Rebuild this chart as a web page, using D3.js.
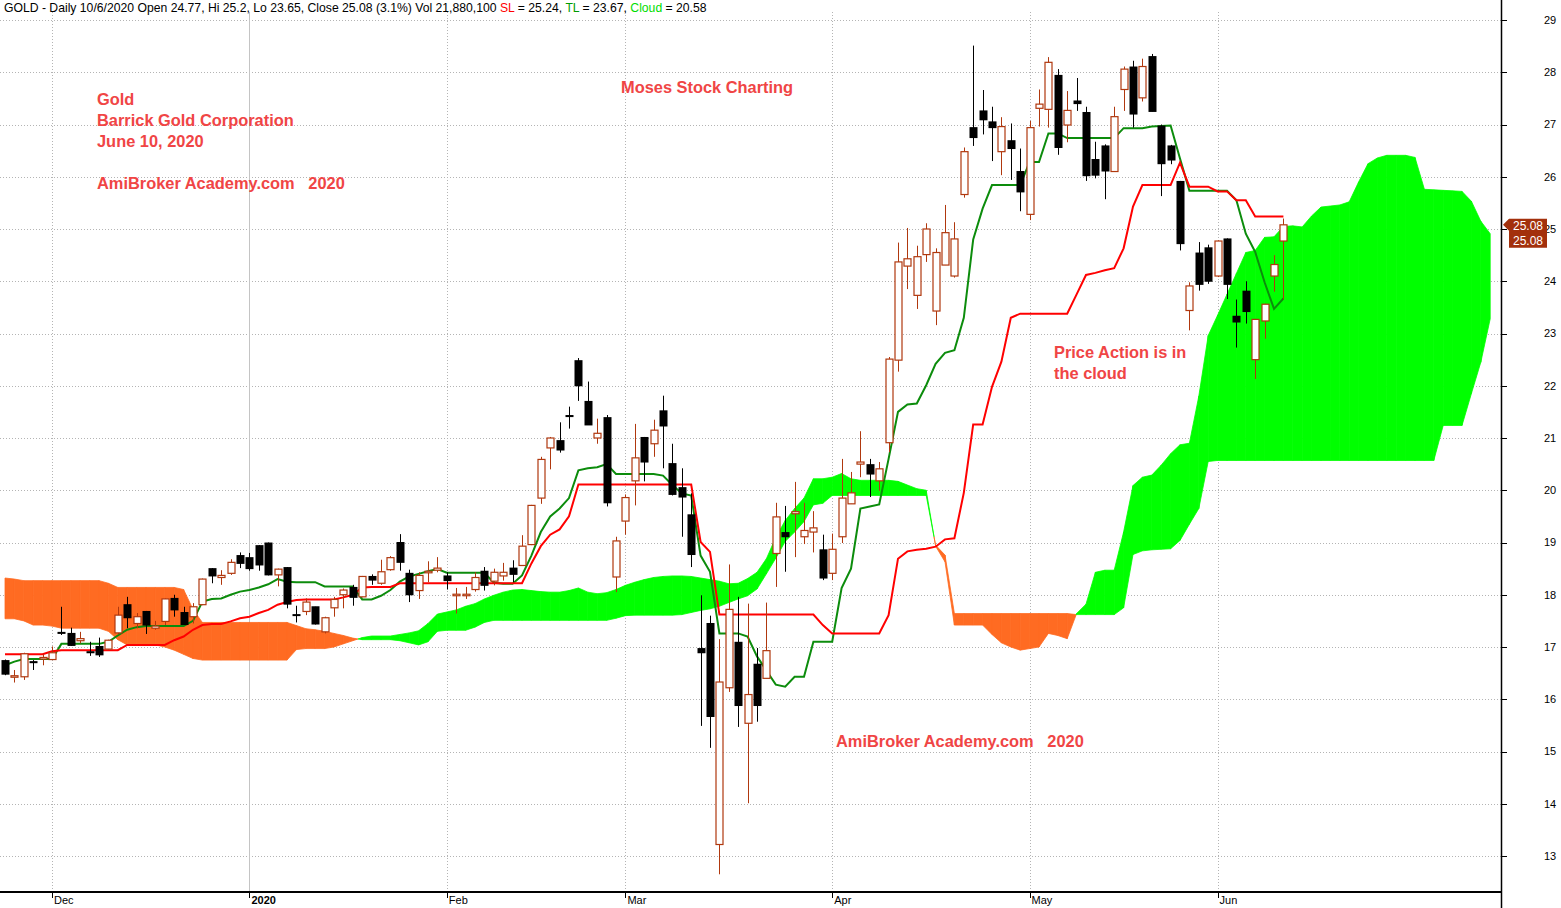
<!DOCTYPE html>
<html><head><meta charset="utf-8">
<script src="https://cdn.jsdelivr.net/npm/d3@7"></script>
<style>body{margin:0;background:#fff;} svg{display:block;font-family:"Liberation Sans",Arial,sans-serif;}</style>
</head><body><svg id="chart" width="1561" height="908"></svg>
<script>
// ---- data (index = trading day, 0 = 22 Nov 2019) ----
const openP = [
16.74,16.43,16.43,16.72,16.77,16.76,17.28,17.26,17.12,16.91,
17.01,16.96,17.27,17.81,17.45,17.68,17.36,17.49,17.93,17.66,
17.58,17.81,18.50,18.33,18.41,18.75,18.71,18.94,18.99,18.38,
18.52,17.62,17.68,17.77,17.29,17.75,18.00,18.14,17.96,18.35,
18.22,18.48,19.00,18.41,18.08,18.42,18.47,18.36,17.99,17.99,
18.10,18.45,18.26,18.36,18.51,18.56,18.96,19.85,20.81,20.95,
21.43,22.48,21.70,21.00,21.39,18.34,19.41,20.18,21.01,20.89,
21.52,20.51,20.05,19.53,16.97,17.45,13.22,16.22,17.09,15.54,
16.67,16.40,18.79,19.19,19.55,19.11,19.20,18.86,18.41,19.11,
19.74,20.50,20.49,20.18,20.91,22.49,24.29,23.73,24.51,23.43,
24.31,24.10,25.66,26.94,27.26,27.05,26.48,26.69,26.10,25.28,
27.31,27.29,27.94,26.99,27.45,27.23,26.33,26.59,26.10,27.67,
28.10,27.51,28.30,26.97,26.59,25.91,23.44,24.54,24.64,24.10,
24.81,23.33,23.81,22.50,23.24,24.10,24.77];
const highP = [
16.76,16.56,16.89,16.75,16.86,17.01,17.77,17.37,17.29,17.10,
17.18,17.14,17.77,17.96,17.65,17.69,17.50,17.93,18.00,17.77,
17.84,18.31,18.51,18.47,18.68,18.81,18.80,18.95,19.00,18.50,
18.53,17.79,17.93,17.77,17.58,17.96,18.12,18.19,18.36,18.39,
18.67,18.74,19.16,18.48,18.43,18.64,18.72,18.43,18.13,18.15,
18.43,18.53,18.50,18.61,18.66,19.14,19.72,20.64,21.02,21.30,
21.60,22.53,22.08,21.37,21.44,19.11,19.92,21.27,21.02,21.35,
21.81,20.89,20.42,19.94,17.99,17.60,17.15,18.58,17.96,17.83,
16.98,17.85,19.76,19.70,20.16,19.76,19.60,19.15,19.17,20.60,
20.35,21.13,20.60,20.54,22.55,24.74,25.02,24.68,25.11,24.63,
25.46,25.13,26.56,28.51,27.66,27.34,27.14,27.02,26.54,27.07,
27.67,28.29,28.06,27.64,27.89,27.34,26.67,26.62,27.34,28.11,
28.22,28.26,28.35,27.00,26.61,25.92,23.98,24.75,24.70,24.78,
24.82,23.65,24.00,23.28,23.57,24.50,25.20];
const lowP = [
16.46,16.32,16.37,16.56,16.65,16.75,17.23,17.02,17.07,16.83,
16.81,16.95,17.24,17.36,17.36,17.25,17.33,17.42,17.58,17.42,
17.45,17.80,18.22,18.19,18.38,18.51,18.46,18.46,18.37,18.16,
17.74,17.47,17.61,17.43,17.26,17.58,17.74,17.79,17.95,18.19,
18.19,18.46,18.46,17.86,17.92,18.24,18.43,18.10,17.64,17.92,
18.06,18.08,18.18,18.27,18.24,18.56,18.95,19.74,20.40,20.72,
21.18,21.71,21.25,20.89,19.69,18.05,19.15,19.71,20.17,20.64,
20.42,19.90,19.11,18.53,15.49,15.07,12.65,16.14,15.47,14.01,
15.57,16.40,18.15,18.44,18.72,18.97,18.81,18.28,18.28,18.99,
19.74,20.25,19.87,19.99,20.73,22.27,23.85,23.47,24.37,23.16,
24.31,24.07,25.60,26.59,26.81,26.30,26.03,25.94,25.34,25.17,
26.96,26.94,26.42,26.66,27.26,25.92,25.97,25.57,26.10,27.26,
26.94,27.44,27.25,25.63,26.24,24.59,23.06,23.82,23.95,24.08,
23.66,22.73,23.19,22.13,22.90,23.80,23.65];
const closeP = [
16.48,16.45,16.87,16.70,16.80,16.89,17.26,17.03,17.16,16.89,
16.85,17.13,17.61,17.56,17.58,17.42,17.40,17.92,17.71,17.43,
17.77,18.30,18.36,18.37,18.62,18.60,18.50,18.57,18.38,18.49,
17.82,17.61,17.86,17.44,17.56,17.91,18.09,17.95,18.35,18.28,
18.44,18.71,18.62,18.00,18.37,18.45,18.51,18.27,18.01,18.01,
18.33,18.18,18.43,18.43,18.39,18.93,19.71,20.59,21.00,20.77,
21.41,22.00,21.25,21.09,19.76,19.03,19.86,20.62,20.54,21.15,
21.23,19.92,19.87,18.77,16.89,15.67,16.33,17.72,15.88,16.09,
15.88,16.93,19.49,19.11,19.59,19.23,19.28,18.32,18.87,19.85,
19.95,20.54,20.31,20.41,22.51,24.37,24.43,24.47,25.00,24.55,
24.93,24.81,26.48,26.75,27.09,26.94,26.96,26.54,25.71,26.94,
27.39,28.19,26.56,27.27,27.40,26.02,26.03,26.11,27.15,28.06,
27.20,28.11,27.25,26.25,26.32,24.72,23.91,23.94,24.00,24.77,
23.94,23.22,23.42,23.27,23.56,24.32,25.08];
// Standard line (SL, red) and turning line (TL, green)
const slLine = [
16.86,16.86,16.86,16.86,16.86,16.92,16.94,16.94,16.94,16.94,
16.94,16.94,16.94,17.04,17.04,17.04,17.04,17.04,17.13,17.20,
17.33,17.42,17.44,17.44,17.49,17.55,17.58,17.65,17.71,17.81,
17.86,17.90,17.91,17.91,17.91,17.91,17.95,18.00,18.14,18.15,
18.15,18.15,18.22,18.22,18.22,18.22,18.22,18.22,18.22,18.22,
18.22,18.22,18.22,18.22,18.22,18.22,18.60,18.93,19.15,19.25,
19.50,20.11,20.11,20.11,20.11,20.11,20.11,20.11,20.11,20.11,
20.11,20.11,20.11,20.11,19.01,18.82,17.62,17.62,17.62,17.62,
17.62,17.62,17.62,17.62,17.62,17.62,17.62,17.42,17.26,17.26,
17.26,17.26,17.26,17.26,17.61,18.69,18.83,18.86,18.88,18.92,
19.06,19.08,19.95,21.26,21.26,21.98,22.46,23.30,23.38,23.38,
23.38,23.38,23.38,23.38,23.75,24.12,24.16,24.21,24.25,24.63,
25.43,25.84,25.84,25.84,25.84,26.27,25.81,25.81,25.81,25.72,
25.72,25.55,25.55,25.24,25.24,25.24,25.24];
const tlLine = [
16.65,16.72,16.77,16.77,16.77,16.77,17.06,17.06,17.06,17.06,
17.06,17.10,17.22,17.33,17.38,17.40,17.40,17.40,17.40,17.40,
17.50,17.87,17.92,17.93,18.00,18.06,18.09,18.14,18.20,18.30,
18.25,18.24,18.24,18.24,18.16,18.16,18.16,18.16,17.91,17.91,
17.98,18.09,18.25,18.35,18.40,18.45,18.49,18.42,18.42,18.42,
18.42,18.42,18.23,18.21,18.21,18.37,18.75,19.20,19.50,19.65,
19.85,20.38,20.42,20.44,20.50,20.31,20.31,20.31,20.31,20.31,
20.28,20.10,19.94,19.90,18.75,18.44,17.26,17.26,17.26,17.20,
16.82,16.55,16.28,16.24,16.43,16.43,17.10,17.10,17.10,18.13,
18.50,19.65,19.69,19.73,20.60,21.50,21.64,21.66,22.01,22.42,
22.63,22.68,23.30,24.80,25.39,25.84,25.84,25.84,25.84,26.28,
26.28,26.83,26.83,26.74,26.74,26.74,26.74,26.74,26.74,26.93,
26.93,26.93,26.96,26.97,26.98,26.35,25.73,25.73,25.73,25.73,
25.73,25.55,24.91,24.56,23.98,23.47,23.67];
// Cloud spans (already displaced forward, index 0..158)
const spanA = [
17.54,17.54,17.50,17.42,17.42,17.40,17.36,17.36,17.36,17.36,
17.36,17.30,17.14,17.04,17.04,17.04,17.04,17.00,16.94,16.86,
16.78,16.75,16.75,16.75,16.75,16.75,16.75,16.75,16.75,16.75,
16.75,16.95,16.97,16.97,16.97,17.00,17.06,17.12,17.18,17.21,
17.21,17.21,17.24,17.27,17.31,17.45,17.63,17.67,17.71,17.78,
17.83,17.92,17.99,18.05,18.09,18.10,18.08,18.06,18.05,18.05,
18.08,18.13,18.05,18.02,18.04,18.10,18.18,18.24,18.29,18.33,
18.35,18.36,18.36,18.35,18.32,18.29,18.26,18.21,18.22,18.31,
18.43,18.69,19.10,19.42,19.65,19.85,20.22,20.22,20.25,20.32,
20.22,20.19,20.19,20.19,20.19,20.17,20.10,20.03,20.00,18.93,
18.63,17.42,17.42,17.42,17.42,17.24,17.08,17.00,16.94,16.97,
17.00,17.26,17.22,17.16,17.64,17.82,18.43,18.47,18.47,19.20,
20.09,20.25,20.29,20.48,20.70,20.87,20.90,21.80,22.96,23.35,
23.75,24.15,24.55,24.59,24.84,24.85,25.05,25.06,25.04,25.25,
25.42,25.44,25.46,25.52,25.90,26.25,26.36,26.41,26.41,26.41,
26.37,25.76,25.75,25.74,25.73,25.72,25.53,25.15,24.91];
const spanB = [
18.32,18.30,18.27,18.27,18.27,18.27,18.27,18.27,18.27,18.27,
18.27,18.22,18.14,18.14,18.14,18.14,18.14,18.14,18.14,18.10,
17.72,17.47,17.47,17.47,17.47,17.47,17.47,17.47,17.47,17.47,
17.47,17.41,17.35,17.33,17.30,17.26,17.22,17.17,17.14,17.14,
17.14,17.14,17.12,17.08,17.04,17.10,17.30,17.32,17.32,17.32,
17.38,17.47,17.51,17.51,17.51,17.51,17.51,17.51,17.51,17.51,
17.51,17.51,17.51,17.51,17.51,17.55,17.60,17.61,17.61,17.61,
17.61,17.61,17.62,17.66,17.70,17.73,17.78,17.85,17.92,17.98,
18.11,18.40,18.70,19.02,19.20,19.40,19.72,19.75,19.90,19.90,
19.90,19.90,19.90,19.90,19.90,19.90,19.90,19.90,19.90,18.95,
18.76,17.64,17.64,17.64,17.64,17.64,17.64,17.64,17.64,17.64,
17.64,17.64,17.64,17.64,17.62,17.62,17.62,17.62,17.62,17.75,
18.77,18.84,18.86,18.87,18.88,19.04,19.35,19.65,20.55,20.57,
20.57,20.57,20.57,20.57,20.57,20.57,20.57,20.57,20.57,20.57,
20.57,20.57,20.57,20.57,20.57,20.57,20.57,20.57,20.57,20.57,
20.57,20.57,20.57,21.24,21.24,21.24,21.85,22.45,23.28];
const monthLabels = ["Dec","2020","Feb","Mar","Apr","May","Jun"];
const monthIndex  = [5,26,47,66,88,109,129];
const priceTicks = [13,14,15,16,17,18,19,20,21,22,23,24,25,26,27,28,29];

// ---- drawing ----
const svg = d3.select("#chart");
const W = 1561, H = 908, axisX = 1501, axisY = 892;
const x = d3.scaleLinear().domain([0, 136]).range([5, 1283.4]);
const y = d3.scaleLinear().domain([13, 29]).range([856, 20]);
const UP = "#b0380e", GREEN_LINE = "#0c8c0c", RED_LINE = "#ff0000";
const CLOUD_G = "#00ff00", CLOUD_O = "#ff6b22";

// grid
const grid = svg.append("g");
grid.selectAll("line.h").data(priceTicks).join("line")
  .attr("x1", 0).attr("x2", axisX).attr("y1", d => Math.round(y(d)) + 0.5).attr("y2", d => Math.round(y(d)) + 0.5)
  .attr("stroke", "#b4b4b4").attr("stroke-dasharray", "1,2");
grid.selectAll("line.v").data(monthIndex).join("line")
  .attr("x1", d => Math.round(x(d)) + 0.5).attr("x2", d => Math.round(x(d)) + 0.5)
  .attr("y1", 12).attr("y2", axisY)
  .attr("stroke", (d, i) => monthLabels[i] === "2020" ? "#c4c4c4" : "#b4b4b4")
  .attr("stroke-dasharray", (d, i) => monthLabels[i] === "2020" ? null : "1,2");

// cloud: per-segment polygons, split at crossings
const cloud = svg.append("g");
for (let i = 0; i < spanA.length - 1; i++) {
  const a0 = spanA[i], a1 = spanA[i + 1], b0 = spanB[i], b1 = spanB[i + 1];
  const d0 = a0 - b0, d1 = a1 - b1;
  const polys = [];
  if ((d0 >= 0) === (d1 >= 0)) {
    polys.push({pts: [[i, a0], [i + 1, a1], [i + 1, b1], [i, b0]], up: d0 + d1 >= 0});
  } else {
    const t = d0 / (d0 - d1);
    const xi = i + t, yi = a0 + (a1 - a0) * t;
    polys.push({pts: [[i, a0], [xi, yi], [i, b0]], up: d0 >= 0});
    polys.push({pts: [[xi, yi], [i + 1, a1], [i + 1, b1]], up: d1 >= 0});
  }
  polys.forEach(p => {
    cloud.append("polygon")
      .attr("points", p.pts.map(q => [x(q[0]), y(q[1])].join(",")).join(" "))
      .attr("fill", p.up ? CLOUD_G : CLOUD_O)
      .attr("stroke", p.up ? CLOUD_G : CLOUD_O).attr("stroke-width", 0.8);
  });
}

// lines
const lineGen = d3.line().x((d, i) => x(i)).y(d => y(d));
svg.append("path").attr("d", lineGen(tlLine)).attr("fill", "none").attr("stroke", GREEN_LINE).attr("stroke-width", 2);
svg.append("path").attr("d", lineGen(slLine)).attr("fill", "none").attr("stroke", RED_LINE).attr("stroke-width", 2);

// candles
const candles = openP.map((o, i) => ({i, o, h: highP[i], l: lowP[i], c: closeP[i]}));
const cg = svg.append("g");
candles.forEach(d => {
  const up = d.c >= d.o;
  const cx = Math.round(x(d.i)) + 0.5;
  const col = up ? UP : "#000";
  cg.append("line").attr("x1", cx).attr("x2", cx).attr("y1", y(d.h)).attr("y2", y(d.l)).attr("stroke", col).attr("stroke-width", 1);
  const top = y(Math.max(d.o, d.c)), bot = y(Math.min(d.o, d.c));
  const hgt = Math.max(bot - top, 1);
  if (up) {
    cg.append("rect").attr("x", cx - 3.5).attr("y", top).attr("width", 7).attr("height", Math.max(hgt, 1.5))
      .attr("fill", "#fff").attr("stroke", UP).attr("stroke-width", 1.2);
  } else {
    cg.append("rect").attr("x", cx - 4).attr("y", top - 0.5).attr("width", 8).attr("height", hgt + 1)
      .attr("fill", "#000");
  }
});

// axes
svg.append("line").attr("x1", axisX + 0.5).attr("x2", axisX + 0.5).attr("y1", 0).attr("y2", H).attr("stroke", "#000").attr("stroke-width", 1.5);
svg.append("line").attr("x1", 0).attr("x2", axisX).attr("y1", axisY).attr("y2", axisY).attr("stroke", "#000").attr("stroke-width", 2);
const ya = svg.append("g");
ya.selectAll("line").data(priceTicks).join("line")
  .attr("x1", axisX).attr("x2", axisX + 6).attr("y1", d => Math.round(y(d)) + 0.5).attr("y2", d => Math.round(y(d)) + 0.5)
  .attr("stroke", "#000");
ya.selectAll("text").data(priceTicks).join("text")
  .attr("x", 1550).attr("y", d => y(d)).attr("dy", "0.35em").attr("text-anchor", "middle")
  .attr("font-size", 11).attr("fill", "#000").text(d => d);
const xa = svg.append("g");
xa.selectAll("line").data(monthIndex).join("line")
  .attr("x1", d => Math.round(x(d)) + 0.5).attr("x2", d => Math.round(x(d)) + 0.5)
  .attr("y1", axisY).attr("y2", axisY + 6).attr("stroke", "#000");
xa.selectAll("text").data(monthIndex).join("text")
  .attr("x", d => x(d) + 2).attr("y", 900).attr("dy", "0.35em")
  .attr("font-size", 11).attr("font-weight", (d, i) => monthLabels[i] === "2020" ? "bold" : null)
  .attr("fill", "#000").text((d, i) => monthLabels[i]);

// last price marker
const lastClose = closeP[closeP.length - 1];
const ly = y(lastClose);
svg.append("path")
  .attr("d", `M${axisX + 2},${ly} L${axisX + 8},${ly - 6} L${axisX + 8},${ly - 6} L1547,${ly - 6} L1547,${ly + 23} L${axisX + 8},${ly + 23} L${axisX + 8},${ly + 6} Z`)
  .attr("fill", "#a3300c");
[1, 16].forEach(off => svg.append("text").attr("x", 1528).attr("y", ly + off).attr("dy", "0.35em")
  .attr("text-anchor", "middle").attr("font-size", 12).attr("fill", "#fff").text(lastClose.toFixed(2)));

// header
const hdr = svg.append("text").attr("x", 4).attr("y", 8).attr("dy", "0.35em").attr("font-size", 12.2).attr("fill", "#000");
hdr.append("tspan").text("GOLD - Daily 10/6/2020 Open 24.77, Hi 25.2, Lo 23.65, Close 25.08 (3.1%) Vol 21,880,100 ");
hdr.append("tspan").attr("fill", "#ff0000").text("SL");
hdr.append("tspan").text(" = 25.24, ");
hdr.append("tspan").attr("fill", "#009a00").text("TL");
hdr.append("tspan").text(" = 23.67, ");
hdr.append("tspan").attr("fill", "#00dd00").text("Cloud");
hdr.append("tspan").text(" = 20.58");

// annotations
const notes = [
  {t: "Gold", x: 97, y: 99},
  {t: "Barrick Gold Corporation", x: 97, y: 120},
  {t: "June 10, 2020", x: 97, y: 141},
  {t: "AmiBroker Academy.com   2020", x: 97, y: 183},
  {t: "Moses Stock Charting", x: 621, y: 87},
  {t: "AmiBroker Academy.com   2020", x: 836, y: 741},
  {t: "Price Action is in", x: 1054, y: 352},
  {t: "the cloud", x: 1054, y: 373}
];
svg.append("g").selectAll("text").data(notes).join("text")
  .attr("x", d => d.x).attr("y", d => d.y).attr("dy", "0.35em")
  .attr("font-size", 16.4).attr("font-weight", "bold").attr("fill", "#f04545")
  .style("white-space", "pre").text(d => d.t);
</script></body></html>
